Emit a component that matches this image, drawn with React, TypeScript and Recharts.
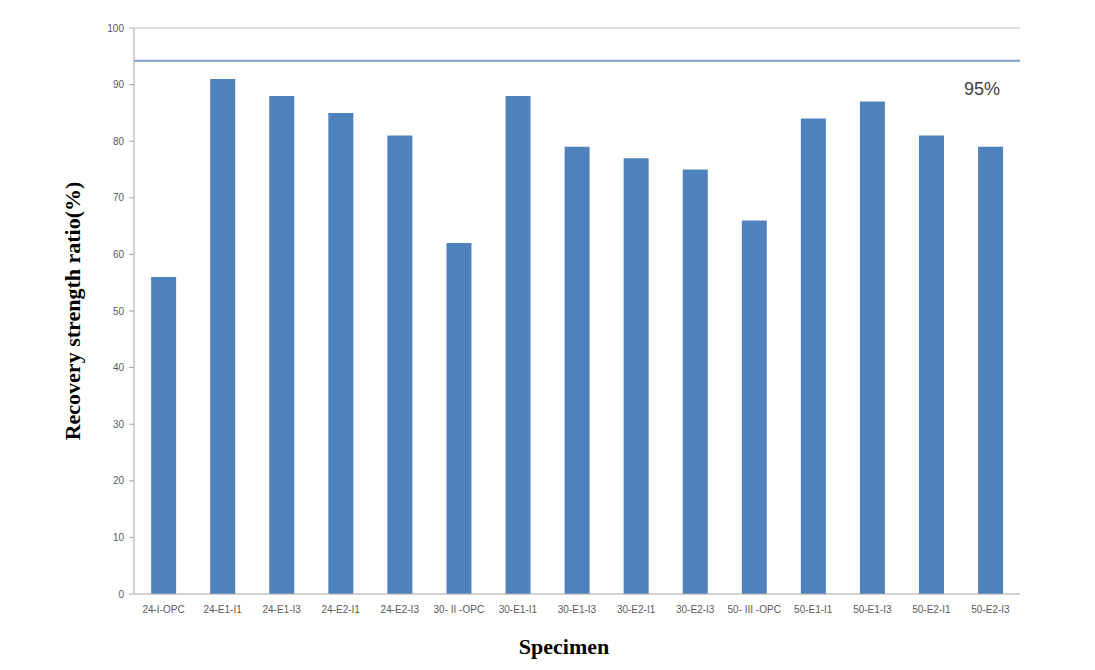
import { BarChart, Bar, XAxis, YAxis, ReferenceLine } from "recharts";

const specimens = [
  "24-I-OPC", "24-E1-I1", "24-E1-I3", "24-E2-I1", "24-E2-I3",
  "30- II -OPC", "30-E1-I1", "30-E1-I3", "30-E2-I1", "30-E2-I3",
  "50- III -OPC", "50-E1-I1", "50-E1-I3", "50-E2-I1", "50-E2-I3",
];
const recoveryRatio = [56, 91, 88, 85, 81, 62, 88, 79, 77, 75, 66, 84, 87, 81, 79];
const yTicks = [0, 10, 20, 30, 40, 50, 60, 70, 80, 90, 100];
const targetLine = 94.2;
const targetLabel = "95%";

const data = specimens.map((name, i) => ({ name, ratio: recoveryRatio[i] }));

const tickFont = { fontFamily: "Liberation Sans, Arial, sans-serif", fontSize: 10, fill: "#595959" };
const titleFont = { fontFamily: "Liberation Serif, Times New Roman, serif", fontWeight: "bold", fontSize: 22, fill: "#000" };

// label drawn under the target line, near the right edge
const TargetLabel = (props: any) => {
  const vb = props.viewBox || {};
  return (
    <text
      x={vb.x + vb.width - 20}
      y={vb.y + 34}
      textAnchor="end"
      fontFamily="Liberation Sans, Arial, sans-serif"
      fontSize={18}
      fill="#404040"
    >
      {targetLabel}
    </text>
  );
};

export default function App() {
  if (typeof document !== "undefined") document.body.style.margin = "0";
  return (
    <div style={{ width: 1095, height: 670, background: "#fff" }}>
      <BarChart
        width={1095}
        height={670}
        data={data}
        margin={{ top: 28, right: 75, bottom: 0, left: 0 }}
        barCategoryGap="29%"
      >
        {/* plot area frame */}
        <ReferenceLine y={100} stroke="#bfbfbf" ifOverflow="extendDomain" />
        <XAxis
          dataKey="name"
          height={76}
          interval={0}
          tickLine={false}
          axisLine={{ stroke: "#a6a6a6" }}
          tick={tickFont}
          tickMargin={6}
          label={{
            value: "Specimen",
            position: "insideBottom",
            offset: 16,
            dx: -13,
            style: titleFont,
          }}
        />
        <YAxis
          width={134}
          domain={[0, 100]}
          ticks={yTicks}
          interval={0}
          tickLine={{ stroke: "#a6a6a6" }}
          tickSize={5}
          tickMargin={5}
          axisLine={{ stroke: "#a6a6a6" }}
          tick={tickFont}
          label={{
            value: "Recovery strength ratio(%)",
            angle: -90,
            position: "insideLeft",
            offset: 72,
            style: { ...titleFont, textAnchor: "middle" },
          }}
        />
        <YAxis yAxisId="right" orientation="right" width={0} domain={[0, 100]} tick={false} tickLine={false} axisLine={{ stroke: "#d0d0d0" }} />
        <ReferenceLine y={targetLine} stroke="#7f9ccb" strokeWidth={2} label={<TargetLabel />} />
        <Bar dataKey="ratio" fill="#4f81bd" isAnimationActive={false} />
      </BarChart>
    </div>
  );
}
